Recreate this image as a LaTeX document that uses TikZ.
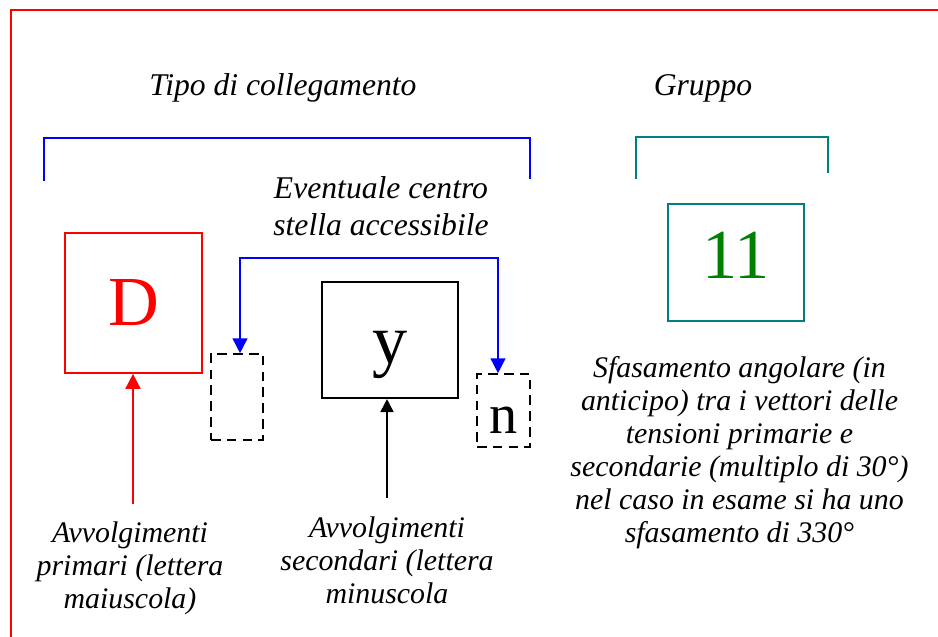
\documentclass[tikz,border=0pt]{standalone}
\usepackage{fontspec}
\setmainfont{Liberation Serif}
\usetikzlibrary{arrows.meta}

\begin{document}
\begin{tikzpicture}[
    note/.style={font=\itshape\fontsize{17}{18.8}\selectfont, align=center, inner sep=0pt},
    heading/.style={font=\itshape\fontsize{18}{21}\selectfont, align=center, inner sep=0pt},
    letterbox/.style={draw, line width=1pt, inner sep=0pt, font=\fontsize{40}{40}\selectfont},
    dashbox/.style={draw, line width=0.9pt, dash pattern=on 5.5pt off 3.5pt, inner sep=0pt, minimum width=1.04cm},
  ]
  \useasboundingbox (0,0) rectangle (18.76,12.74);

  % cornice
  \draw[red, line width=0.9pt] (0.22,0) -- (0.22,12.54) -- (18.76,12.54);

  % parentesi in alto
  \node[heading] (tipo) at (5.66,10.98) {Tipo di collegamento};
  \node[heading] (gruppo) at (14.06,10.98) {Gruppo};
  \draw[blue, line width=0.9pt] (0.88,9.12) -- (0.88,9.98) -- (10.60,9.98) -- (10.60,9.16);
  \draw[teal, line width=0.9pt] (12.72,9.16) -- (12.72,10.00) -- (16.56,10.00) -- (16.56,9.28);

  % riquadri
  \node[letterbox, red, minimum width=2.74cm, minimum height=2.80cm] (prim) at (2.67,6.68) {D};
  \node[letterbox, minimum width=2.72cm, minimum height=2.32cm, line width=1.2pt, text height=27pt, text depth=0pt] (sec) at (7.80,5.94) {y};
  \node[letterbox, teal, text=green!50!black, minimum width=2.72cm, minimum height=2.34cm, text depth=8pt] (grp) at (14.72,7.49) {11};
  \node[dashbox, minimum height=1.72cm] (starA) at (4.74,4.80) {};
  \node[dashbox, minimum width=1.06cm, minimum height=1.46cm, font=\fontsize{32}{32}\selectfont, text height=26pt] (starB) at (10.07,4.53) {n};

  % centro stella
  \node[heading] (centro) at (7.62,8.61) {Eventuale centro\\stella accessibile};
  \draw[blue, line width=0.9pt, arrows={Triangle[length=8.5pt,width=8.5pt]-Triangle[length=8.5pt,width=8.5pt]}]
    ([xshift=0.06cm]starA.north) -- ++(0,1.9) -| ([xshift=-0.11cm]starB.north);

  % avvolgimenti
  \node[note] (primtxt) at (2.60,1.37) {Avvolgimenti\\primari (lettera\\maiuscola)};
  \node[note] (sectxt) at (7.74,1.54) {Avvolgimenti\\secondari (lettera\\minuscola};
  \coordinate (primfoot) at (2.66,2.66);
  \coordinate (secfoot) at (7.74,2.78);
  \draw[red, line width=1pt, -{Triangle[length=8.5pt,width=8.5pt]}] (primfoot) -- (primfoot |- prim.south);
  \draw[line width=1pt, -{Triangle[length=7.5pt,width=7.5pt]}] (secfoot) -- (secfoot |- sec.south);

  % sfasamento
  \node[note] (sfas) at (14.79,3.68) {Sfasamento angolare (in\\anticipo) tra i vettori delle\\tensioni primarie e\\secondarie (multiplo di 30°)\\nel caso in esame si ha uno\\sfasamento di 330°};
\end{tikzpicture}
\end{document}
